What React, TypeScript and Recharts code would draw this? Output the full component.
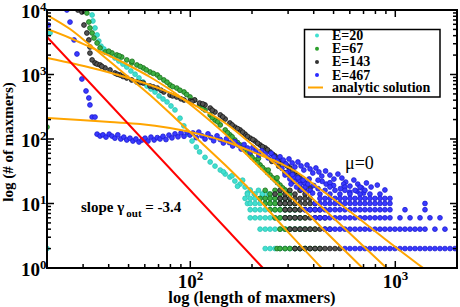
import React from 'react';
import { ScatterChart, Scatter, XAxis, YAxis } from 'recharts';

// ---------- data ----------
const xTicks = [20, 30, 40, 50, 60, 70, 80, 90, 100, 200, 300, 400, 500, 600, 700, 800, 900, 1000, 2000];
const xMajor = [100, 1000];
const yTicks = [1, 2, 3, 4, 5, 6, 7, 8, 9, 10, 20, 30, 40, 50, 60, 70, 80, 90, 100, 200, 300, 400, 500, 600, 700, 800, 900, 1000, 2000, 3000, 4000, 5000, 6000, 7000, 8000, 9000, 10000];
const yMajor = [1, 10, 100, 1000, 10000];

const e20Curve = [
  [20.7, 4400], [20, 2],
  [33.2, 8360], [33.5, 6750], [34.3, 5260], [35.1, 4100], [35.8, 3300], [36.7, 2750], [37.9, 2485], [39.1, 2230],
  [41.1, 2010], [42.9, 1800], [44.8, 1620], [46.9, 1450], [49.0, 1306], [51.3, 1133], [53.8, 1010], [56.2, 883],
  [58.8, 765], [61.5, 663], [64.3, 596], [67.3, 535], [70.4, 464], [73.6, 417], [77.0, 375], [80.5, 325], [84.2, 282],
  [89.1, 210], [93, 160], [97.7, 119], [102, 93], [107, 75], [111, 63], [118, 52], [125, 44], [132, 38], [140, 33],
  [148, 28.6], [156, 25.7], [165, 22.3], [175, 20], [185, 18], [196, 16.2],
  [170, 18.5], [190, 14.5], [205, 14], [215, 16], [160, 27], [145, 31], [180, 23], [225, 14], [240, 14],
];
const e20Rows: [number, number[]][] = [
  [14, [190, 207, 225, 245]],
  [12, [185, 196, 207, 219, 232, 245, 259, 274, 290]],
  [10, [190, 196, 207, 219, 232, 245, 259, 274, 290, 306]],
  [8, [196, 207, 219, 232, 245, 259, 274, 290, 306, 324]],
  [6, [196, 207, 219, 232, 245, 259, 274, 290, 306, 324, 343]],
  [4, [219, 232, 245, 259, 274, 290, 306, 324, 343, 363]],
  [2, [232, 245, 259, 274, 290, 306, 324, 343, 363]],
];

const e67Curve = [
  [20, 153],
  [31.3, 8980], [32.0, 6510], [32.4, 5260], [33.2, 4400], [33.9, 3680], [35.1, 3080], [36.3, 2575], [38.4, 2230],
  [41.5, 2155], [43.8, 2010], [46.3, 1868], [49.0, 1680], [51.8, 1507], [54.9, 1405], [59.0, 1262], [63.6, 1094],
  [69.0, 983], [74.3, 822], [79.6, 688], [85.9, 617], [93.2, 535], [99.7, 448], [105, 402],
  [40, 2300], [45, 1950], [52, 1600], [57, 1330], [61, 1180], [66, 1040], [71, 900], [77, 760], [82, 650], [89, 570], [96, 490],
  [111, 337], [118, 282], [125, 236], [132, 197], [140, 165], [148, 138], [156, 116], [165, 96.5], [175, 80.7],
  [185, 67.5], [196, 56.5], [207, 47.2], [219, 39.5], [232, 33], [245, 27.6], [259, 23.1], [274, 19.3], [290, 16.2],
  [115, 300], [128, 215], [136, 185], [152, 125], [160, 108], [170, 88], [180, 74], [190, 62], [200, 52], [213, 43],
  [225, 36], [238, 30], [252, 25], [266, 21], [282, 17.5], [300, 15], [215, 50], [240, 33], [265, 25],
];
const e67Rows: [number, number[]][] = [
  [16, [232, 259, 290]],
  [14, [245, 274, 306]],
  [12, [219, 232, 245, 259, 274, 290, 306]],
  [10, [232, 245, 259, 274, 290, 306, 324]],
  [8, [245, 259, 274, 290, 306, 324, 343]],
  [6, [259, 274, 290, 306, 324, 343, 363]],
  [4, [274, 290, 306, 324, 343, 363, 384, 406]],
  [2, [265, 274, 290, 306, 324, 343, 363, 384, 406, 429]],
];

const e143Curve = [
  [28.3, 10000], [29.6, 9310], [30.3, 5850], [31.3, 4400], [32.0, 3430], [32.4, 2670], [32.4, 2150], [33.2, 1680],
  [34.3, 1507], [35.1, 1450], [36.3, 1405], [38.4, 1262], [40.6, 1175], [42.9, 1055], [45.4, 983], [49.0, 883],
  [51.8, 822], [54.9, 765], [59.0, 737], [63.6, 663], [69.0, 617], [74.3, 535], [79.6, 481], [85.9, 448], [93.2, 402],
  [99.7, 388], [105, 402], [111, 361], [118, 337], [125, 302], [132, 262], [140, 236], [148, 204], [156, 177],
  [165, 153], [175, 138], [185, 119], [196, 103], [207, 93], [219, 80.7], [232, 72.5], [245, 62.8], [259, 54.5],
  [274, 47.2], [290, 41], [306, 35.5], [324, 29.6], [343, 24.8], [363, 20.8], [384, 17.4],
  [37, 1340], [44, 1010], [47, 930], [57, 750], [66, 640], [72, 570], [82, 465], [90, 420], [102, 380], [115, 350],
  [128, 280], [144, 220], [160, 165], [170, 145], [180, 128], [190, 110], [202, 98], [213, 86], [225, 76], [238, 68],
  [252, 58], [266, 50], [282, 43], [298, 38], [315, 32], [333, 27], [352, 22], [270, 38], [300, 28], [320, 22],
  [250, 45], [290, 30], [340, 19], [360, 17],
];
const e143Rows: [number, number[]][] = [
  [16, [274, 306, 343]],
  [14, [259, 290, 324, 363]],
  [12, [274, 290, 306, 324, 343, 363, 384]],
  [10, [274, 290, 306, 324, 343, 363, 384, 406]],
  [8, [290, 306, 324, 343, 363, 384, 406, 429]],
  [6, [290, 306, 324, 343, 363, 384, 406, 429, 454]],
  [4, [306, 324, 343, 363, 384, 406, 429, 454, 480]],
  [2, [324, 343, 363, 384, 406, 429, 454, 480, 508, 537]],
];

const e467Curve = [
  [20.3, 5850], [25.0, 10000], [25.9, 6500], [27.1, 3430], [28.0, 2080], [29.6, 851], [31.0, 555], [32.0, 432],
  [32.4, 337], [33.2, 219], [34.3, 219],
  [35.1, 119], [36.3, 111], [37.5, 116], [38.8, 107], [40.2, 119], [41.5, 111], [42.9, 103], [44.3, 116], [45.8, 100],
  [47.4, 107], [49.0, 96.5], [50.8, 103], [52.5, 93], [54.3, 100], [56.2, 89.8], [58.2, 96.5], [60.2, 103], [62.2, 93],
  [64.3, 107], [66.6, 96.5], [69.0, 105], [71.2, 100], [73.6, 110], [76.1, 98], [78.7, 115], [81.4, 104], [84.2, 120],
  [87.1, 108], [90.1, 124], [93.2, 110], [96.4, 128], [99.7, 115], [103, 124], [107, 105], [110, 128], [114, 112],
  [118, 100], [122, 120], [126, 106], [130, 94], [135, 112], [140, 98], [145, 86.7], [150, 100], [155, 88],
  [161, 77.9], [165, 91], [171, 80.7], [177, 70], [183, 82], [190, 72.5], [196, 62.8], [202, 74], [209, 65.2],
  [216, 56.5], [223, 66], [232, 58.6], [240, 50.8], [248, 60], [256, 52.7], [265, 45.6], [274, 53], [284, 47.2],
  [293, 41], [303, 49], [314, 42.5], [324, 36.8], [335, 44], [347, 38.2], [358, 33], [371, 39.5], [384, 34.3],
  [396, 29.7], [410, 35.5], [424, 30.8], [438, 26.6], [457, 31.9], [480, 27.6], [502, 23.9], [525, 28.6], [549, 24.8],
  [573, 21.5], [601, 18.6], [628, 23.1], [656, 20], [686, 17.4], [723, 20.8], [762, 18], [817, 19.3], [890, 16.2],
  [290, 27.6], [306, 24], [324, 22], [343, 20], [363, 18], [384, 16], [310, 20], [330, 18], [350, 16.5], [370, 15],
  [395, 14.5], [300, 31], [320, 26], [340, 23], [360, 21], [280, 35], [295, 30], [315, 28], [335, 25], [355, 23],
  [375, 20], [400, 19], [420, 17], [440, 22], [460, 20], [500, 19], [540, 17], [600, 15], [650, 15.5], [700, 14.5],
  [560, 20], [480, 21], [380, 24], [420, 23],
];
const e467Rows: [number, number[]][] = [
  [18, [480, 568, 673]],
  [16, [454, 508, 568, 636, 711]],
  [14, [429, 480, 537, 601, 673, 752, 842]],
  [12, [429, 454, 480, 508, 537, 568, 601, 636, 673, 711, 752, 796, 842, 890, 942]],
  [10, [406, 429, 454, 480, 508, 537, 568, 601, 636, 673, 711, 752, 796, 842, 890, 942, 1396]],
  [8, [363, 384, 406, 429, 454, 480, 508, 537, 568, 601, 636, 673, 711, 752, 796, 842, 890, 942, 1115, 1396]],
  [6, [406, 429, 454, 480, 508, 537, 568, 601, 636, 673, 711, 752, 796, 842, 890, 942, 1054, 1180, 1320, 1476, 1652]],
  [4, [454, 480, 508, 537, 568, 601, 636, 673, 711, 752, 796, 842, 890, 942, 996, 1054, 1115, 1180, 1248, 1320, 1396, 1561, 1747]],
  [2, [568, 601, 636, 673, 711, 752, 796, 842, 890, 942, 996, 1054, 1115, 1180, 1248, 1320, 1396, 1476, 1561, 1652, 1747, 1849, 1955]],
];

// analytic solutions
const fitE20 = [[20, 8360], [25.9, 5070], [32.4, 2870], [45.4, 1175], [63.6, 481], [84.2, 212], [111, 93], [148, 39.5], [196, 16.2], [293, 3.9], [437, 1]];
const fitE67 = [[20, 5070], [25.9, 3680], [32.4, 2670], [40.6, 1936], [50.8, 1355], [63.6, 915], [84.2, 517], [111, 262], [148, 119], [196, 50.8], [259, 21.5], [343, 9.15], [480, 3.13], [692, 1]];
const fitE143 = [[20, 1800], [27.4, 1450], [36.3, 1175], [48.0, 915], [63.6, 688], [84.2, 481], [111, 302], [148, 177], [196, 86.7], [280, 33], [343, 18], [537, 4.81], [906, 1]];
const fitE467 = [[20, 212], [29.0, 197], [40.6, 183], [56.9, 171], [79.6, 148], [111, 119], [156, 86.7], [219, 56.5], [274, 42.4], [331, 30.8], [429, 16.8], [588, 7.93], [890, 2.82], [1366, 1]];
const slopeLine = [[20, 3815], [226, 1]];

const legendItems = [
  { label: 'E=20', color: '#40E0D0' },
  { label: 'E=67', color: '#2ca02c' },
  { label: 'E=143', color: '#333333' },
  { label: 'E=467', color: '#2b2bff' },
];

// ---------- layout ----------
const FONT = "'Liberation Serif', 'Times New Roman', Times, serif";
const L = 47, T = 10, R = 457, B = 268;
const YW = 40, XH = 30;

const pts = (a: number[][]) => a.map(([x, y]) => ({ x, y }));
const rows = (r: [number, number[]][]) => r.flatMap(([y, xs]) => xs.map((x) => ({ x, y })));

const dot = (fill: string, stroke: string) => (p: any) => (
  <circle cx={p.cx} cy={p.cy} r={2.4} fill={fill} stroke={stroke} strokeWidth={0.8} />
);
const noShape = () => <g />;

const XTick = (props: any) => {
  const { x, payload } = props;
  const v = payload.value;
  const major = xMajor.includes(v);
  const len = major ? 7 : 4;
  const exp = Math.round(Math.log10(v));
  return (
    <g>
      <line x1={x} x2={x} y1={B} y2={B - len} stroke="#000" strokeWidth={1.5} />
      <line x1={x} x2={x} y1={T} y2={T + len} stroke="#000" strokeWidth={1.5} />
      {major && (
        <text x={x - 12.5} y={B + 20} fontFamily={FONT} fontWeight="bold" fontSize={19} fill="#000">
          10<tspan dy={-8} fontSize={13}>{exp}</tspan>
        </text>
      )}
    </g>
  );
};

const YTick = (props: any) => {
  const { y, payload } = props;
  const v = payload.value;
  const major = yMajor.includes(v);
  const len = major ? 7 : 4;
  const exp = Math.round(Math.log10(v));
  return (
    <g>
      <line x1={L} x2={L + len} y1={y} y2={y} stroke="#000" strokeWidth={1.5} />
      <line x1={R} x2={R - len} y1={y} y2={y} stroke="#000" strokeWidth={1.5} />
      {major && (
        <text x={21} y={y + 7.5} fontFamily={FONT} fontWeight="bold" fontSize={19} fill="#000">
          10<tspan dy={-7} fontSize={13}>{exp}</tspan>
        </text>
      )}
    </g>
  );
};

export default function App() {
  return (
    <div style={{ position: 'absolute', left: 0, top: 0, width: 460, height: 307, background: '#fff' }}>
      <ScatterChart width={460} height={307} margin={{ top: T, right: 460 - R, bottom: 307 - B - XH, left: L - YW }}>
        <XAxis
          type="number" dataKey="x" scale="log" domain={[20, 2000]} allowDataOverflow
          ticks={xTicks} interval={0} tick={<XTick />} tickLine={false} axisLine={false}
          tickSize={0} tickMargin={0} height={XH}
        />
        <YAxis
          type="number" dataKey="y" scale="log" domain={[1, 10000]} allowDataOverflow
          ticks={yTicks} interval={0} tick={<YTick />} tickLine={false} axisLine={false}
          tickSize={0} tickMargin={0} width={YW}
        />
        <Scatter name="E=20" data={[...pts(e20Curve), ...rows(e20Rows)]} shape={dot('#40E0D0', '#2cc4b4')} isAnimationActive={false} />
        <Scatter name="E=67" data={[...pts(e67Curve), ...rows(e67Rows)]} shape={dot('#3cb043', '#1b6e1b')} isAnimationActive={false} />
        <Scatter name="E=143" data={[...pts(e143Curve), ...rows(e143Rows)]} shape={dot('#555555', '#111111')} isAnimationActive={false} />
        <Scatter name="E=467" data={[...pts(e467Curve), ...rows(e467Rows)]} shape={dot('#3a3aff', '#1a1ad0')} isAnimationActive={false} />
        <Scatter data={pts(fitE20)} line={{ stroke: '#FFA500', strokeWidth: 2 }} lineJointType="monotoneX" shape={noShape} isAnimationActive={false} />
        <Scatter data={pts(fitE67)} line={{ stroke: '#FFA500', strokeWidth: 2 }} lineJointType="monotoneX" shape={noShape} isAnimationActive={false} />
        <Scatter data={pts(fitE143)} line={{ stroke: '#FFA500', strokeWidth: 2 }} lineJointType="monotoneX" shape={noShape} isAnimationActive={false} />
        <Scatter data={pts(fitE467)} line={{ stroke: '#FFA500', strokeWidth: 2 }} lineJointType="monotoneX" shape={noShape} isAnimationActive={false} />
        <Scatter data={pts(slopeLine)} line={{ stroke: '#FF0000', strokeWidth: 2 }} shape={noShape} isAnimationActive={false} />
      </ScatterChart>
      <svg width={460} height={307} style={{ position: 'absolute', left: 0, top: 0, pointerEvents: 'none' }}>
        <rect x={L} y={T} width={R - L} height={B - T} fill="none" stroke="#000" strokeWidth={2} />
        <text x={252} y={303} textAnchor="middle" fontFamily={FONT} fontWeight="bold" fontSize={16.5} fill="#000">
          log (length of maxmers)
        </text>
        <text transform="translate(13,142) rotate(-90)" textAnchor="middle" fontFamily={FONT} fontWeight="bold" fontSize={15} fill="#000">
          log (# of maxmers)
        </text>
        <text x={345} y={169} fontFamily={FONT} fontSize={18} fill="#000">μ=0</text>
        <text x={81} y={212} fontFamily={FONT} fontWeight="bold" fontSize={15} fill="#000">
          slope γ<tspan fontSize={11} dy={5} dx={2}>out</tspan><tspan dy={-5}> = -3.4</tspan>
        </text>
        <rect x={304.5} y={29.5} width={135.5} height={67.5} fill="#fff" stroke="#000" strokeWidth={1.5} />
        {legendItems.map((it, i) => (
          <g key={it.label}>
            <circle cx={317} cy={35.5 + i * 13.2} r={2} fill={it.color} />
            <text x={332} y={40 + i * 13.2} fontFamily={FONT} fontWeight="bold" fontSize={14} fill="#000">{it.label}</text>
          </g>
        ))}
        <line x1={308} x2={323} y1={87.5} y2={87.5} stroke="#FFA500" strokeWidth={2} />
        <text x={332} y={92} fontFamily={FONT} fontWeight="bold" fontSize={14} fill="#000">analytic solution</text>
      </svg>
    </div>
  );
}
